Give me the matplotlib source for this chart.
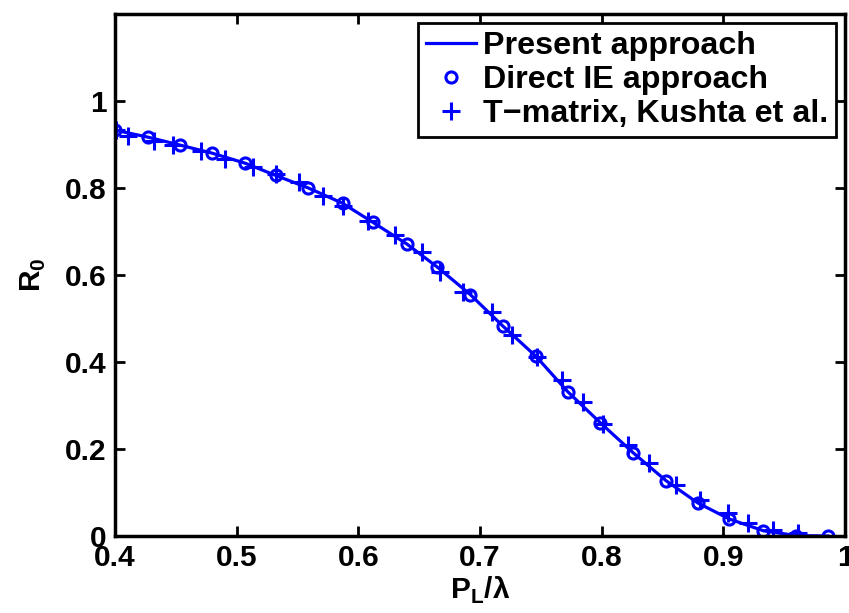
import matplotlib
matplotlib.use("Agg")
import matplotlib.pyplot as plt

plt.rcParams["font.family"] = ["Liberation Sans", "DejaVu Sans"]
plt.rcParams["font.weight"] = "bold"
plt.rcParams["mathtext.fontset"] = "custom"
plt.rcParams["mathtext.bf"] = "Liberation Sans:bold"
plt.rcParams["mathtext.rm"] = "Liberation Sans:bold"

# Present approach (solid curve)
line_x = [0.400, 0.427, 0.453, 0.480, 0.507, 0.532, 0.559, 0.587, 0.612, 0.640,
          0.665, 0.692, 0.719, 0.746, 0.772, 0.799, 0.826, 0.853, 0.879, 0.905,
          0.933, 0.960, 0.986]
line_y = [0.933, 0.917, 0.899, 0.880, 0.857, 0.829, 0.800, 0.765, 0.721, 0.671,
          0.618, 0.555, 0.482, 0.413, 0.332, 0.260, 0.191, 0.127, 0.076, 0.039,
          0.012, 0.001, 0.000]

# Direct IE approach (circles)
ie_x = [0.400, 0.427, 0.453, 0.480, 0.507, 0.532, 0.559, 0.587, 0.612, 0.640,
        0.665, 0.692, 0.719, 0.746, 0.772, 0.799, 0.826, 0.853, 0.879, 0.905,
        0.933, 0.960, 0.986]
ie_y = [0.933, 0.917, 0.899, 0.880, 0.857, 0.829, 0.800, 0.765, 0.721, 0.671,
        0.618, 0.555, 0.482, 0.413, 0.332, 0.260, 0.191, 0.127, 0.076, 0.039,
        0.012, 0.001, 0.000]

# T-matrix, Kushta et al. (plus markers)
tm_x = [0.401, 0.411, 0.432, 0.448, 0.471, 0.490, 0.513, 0.532, 0.551, 0.571,
        0.587, 0.608, 0.630, 0.652, 0.667, 0.686, 0.710, 0.726, 0.747, 0.767,
        0.785, 0.801, 0.822, 0.839, 0.861, 0.881, 0.904, 0.920, 0.941, 0.961]
tm_y = [0.933, 0.919, 0.908, 0.899, 0.885, 0.866, 0.848, 0.832, 0.813, 0.781,
        0.758, 0.724, 0.691, 0.654, 0.608, 0.562, 0.514, 0.463, 0.412, 0.359,
        0.309, 0.258, 0.210, 0.168, 0.118, 0.083, 0.053, 0.030, 0.014, 0.007]

x_ticks = [0.4, 0.5, 0.6, 0.7, 0.8, 0.9, 1.0]
x_tick_labels = ["0.4", "0.5", "0.6", "0.7", "0.8", "0.9", "1"]
y_ticks = [0, 0.2, 0.4, 0.6, 0.8, 1.0]
y_tick_labels = ["0", "0.2", "0.4", "0.6", "0.8", "1"]

blue = (0, 0, 1)
fs = 21.5
leg_fs = 23.2

fig = plt.figure(figsize=(8.49, 6.13), dpi=100)
ax = fig.add_axes([0.1355, 0.1256, 0.8598, 0.8515])

ax.plot(line_x, line_y, color=blue, lw=2.3, label="Present approach")
ax.plot(ie_x, ie_y, ls="none", marker="o", ms=8, mfc="none", mec=blue,
        mew=2.2, label="Direct IE approach")
ax.plot(tm_x, tm_y, ls="none", marker="+", ms=13, mec=blue, mew=2.2,
        label="T\u2212matrix, Kushta et al.")

ax.set_xlim(0.4, 1.0)
ax.set_ylim(0, 1.2)
ax.set_xticks(x_ticks)
ax.set_xticklabels(x_tick_labels)
ax.set_yticks(y_ticks)
ax.set_yticklabels(y_tick_labels)
ax.tick_params(direction="in", length=7, width=2, top=True, right=True,
               labelsize=fs, pad=6)
for lab in ax.get_xticklabels() + ax.get_yticklabels():
    lab.set_fontweight("bold")
for sp in ax.spines.values():
    sp.set_linewidth(2.5)

ax.set_xlabel(r"$\mathbf{P}_{\mathbf{L}}$/λ", fontsize=fs, fontweight="bold",
              labelpad=2)
ax.set_ylabel(r"$\mathbf{R}_{\mathbf{0}}$", fontsize=fs, fontweight="bold",
              labelpad=12)

leg = ax.legend(loc="upper right", frameon=True, fancybox=False,
                edgecolor="black", framealpha=1, handlelength=1.55,
                handletextpad=0.22, labelspacing=0.12, borderpad=0.25,
                borderaxespad=0.28, prop={"weight": "bold", "size": leg_fs})
leg.get_frame().set_linewidth(2)

fig.savefig("out.png", dpi=100)
